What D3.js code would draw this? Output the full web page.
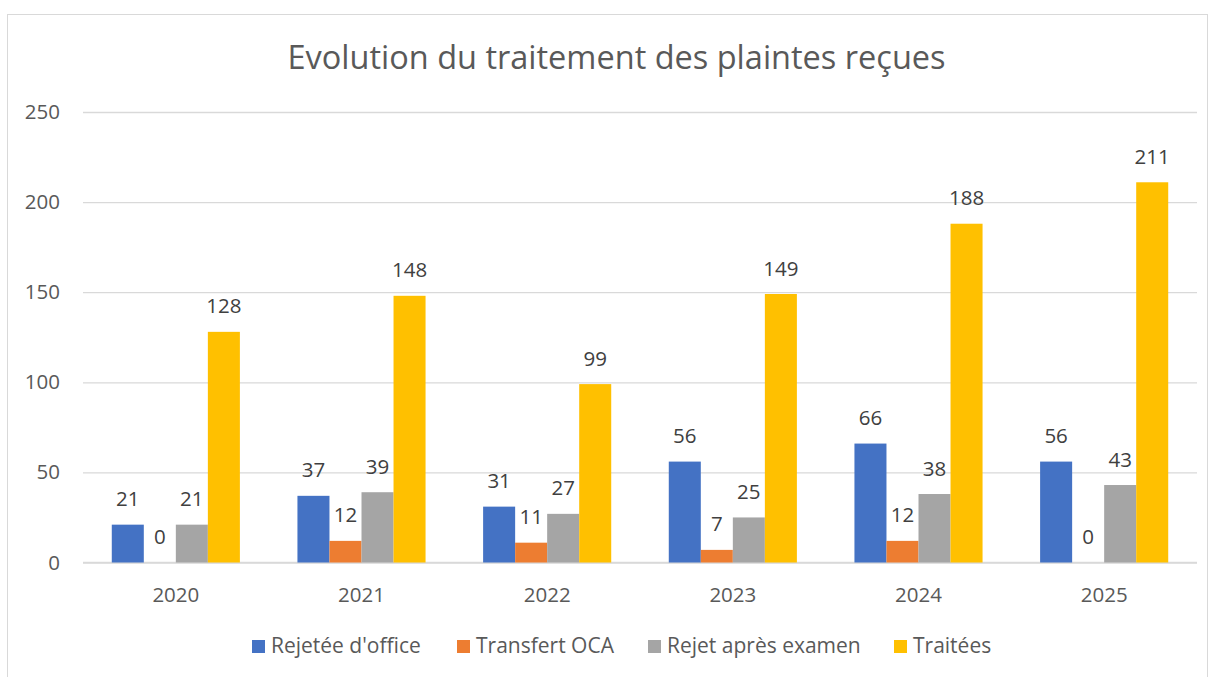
<!DOCTYPE html>
<html><head><meta charset="utf-8">
<script src="https://cdn.jsdelivr.net/npm/d3@7"></script>
<style>body{margin:0;background:#fff;} text{font-family:"Open Sans",sans-serif;}</style>
</head><body>
<svg id="c" width="1215" height="677"></svg>
<script>
const categories = ["2020","2021","2022","2023","2024","2025"];
const seriesNames = ["Rejetée d'office","Transfert OCA","Rejet après examen","Traitées"];
const rejetee = [21,37,31,56,66,56];
const transfert = [0,12,11,7,12,0];
const rejetExamen = [21,39,27,25,38,43];
const traitees = [128,148,99,149,188,211];
const yTicks = [0,50,100,150,200,250];
const colors = ["#4472C4","#ED7D31","#A5A5A5","#FFC000"];
const series = [rejetee, transfert, rejetExamen, traitees];
const FONT = "Open Sans";

const svg = d3.select("#c");
svg.append("rect").attr("x",7.5).attr("y",14.5).attr("width",1200).attr("height",680)
  .attr("fill","#fff").attr("stroke","#d9d9d9").attr("stroke-width",1);

const pL=83, pR=1197, pT=112, pB=562.5;
const x = d3.scaleBand().domain(categories).range([pL,pR]).paddingInner(0).paddingOuter(0);
const y = d3.scaleLinear().domain([0,250]).range([pB,pT]);
const groupW = x.bandwidth()*0.69;
const x1 = d3.scaleBand().domain(d3.range(4)).range([0,groupW]);

svg.append("text").attr("x",616.5).attr("y",69).attr("text-anchor","middle")
  .attr("font-size",32.5).attr("fill","#595959").text("Evolution du traitement des plaintes reçues");

const grid = d3.axisLeft(y).tickValues(yTicks).tickSize(-(pR-pL)).tickFormat("");
svg.append("g").attr("transform",`translate(${pL},0)`).call(grid)
  .call(g=>g.select(".domain").remove())
  .call(g=>g.selectAll("line").attr("stroke","#d9d9d9").attr("stroke-width",1.3));

const yAx = d3.axisLeft(y).tickValues(yTicks).tickSize(0).tickPadding(23);
svg.append("g").attr("transform",`translate(${pL},0)`).call(yAx)
  .call(g=>g.select(".domain").remove())
  .call(g=>g.selectAll("text").attr("font-size",20.5).attr("fill","#595959").attr("font-family",FONT));

const xAx = d3.axisBottom(x).tickSize(0).tickPadding(25);
svg.append("g").attr("transform",`translate(0,${pB})`).call(xAx)
  .call(g=>g.select(".domain").remove())
  .call(g=>g.selectAll("text").attr("font-size",20.5).attr("fill","#595959").attr("font-family",FONT));

svg.append("line").attr("x1",pL).attr("x2",pR).attr("y1",y(0)).attr("y2",y(0))
  .attr("stroke","#d9d9d9").attr("stroke-width",1.5);

series.forEach((vals,si)=>{
  const g = svg.append("g");
  categories.forEach((c,ci)=>{
    const x0 = x(c) + (x.bandwidth()-groupW)/2 + x1(si);
    const v = vals[ci];
    g.append("rect").attr("x",x0).attr("y",y(v)).attr("width",x1.bandwidth()).attr("height",y(0)-y(v))
      .attr("fill",colors[si]);
    g.append("text").attr("x",x0+x1.bandwidth()/2).attr("y",y(v)-18.5).attr("text-anchor","middle")
      .attr("font-size",20.5).attr("fill","#404040").text(v);
  });
});

const legX = [252,457,648,894];
seriesNames.forEach((n,i)=>{
  svg.append("rect").attr("x",legX[i]).attr("y",640).attr("width",13).attr("height",13).attr("fill",colors[i]);
  svg.append("text").attr("x",legX[i]+19).attr("y",653).attr("font-size",21).attr("fill","#595959").text(n);
});
</script>
</body></html>
